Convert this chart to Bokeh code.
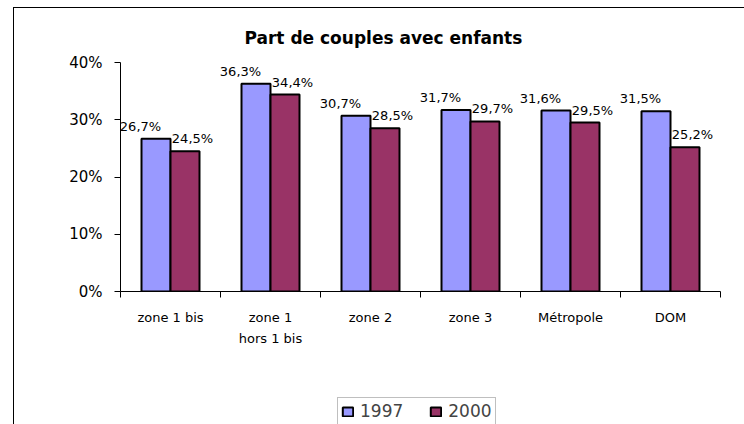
from bokeh.plotting import figure
from bokeh.layouts import column
from bokeh.models import Range1d, FixedTicker, ColumnDataSource, Legend, LegendItem
from bokeh.transform import dodge
from bokeh.core.properties import value
from bokeh.embed import file_html
from bokeh.resources import INLINE

# ---- data ----
title_text = "Part de couples avec enfants"
categories = ["zone 1 bis", "zone 1\nhors 1 bis", "zone 2", "zone 3", "Métropole", "DOM"]
series_names = ["1997", "2000"]
values_1997 = [26.7, 36.3, 30.7, 31.7, 31.6, 31.5]
values_2000 = [24.5, 34.4, 28.5, 29.7, 29.5, 25.2]
y_ticks = [0, 10, 20, 30, 40]

# ---- styles ----
FONT = "DejaVu Sans"
C1997 = "#9999FF"
C2000 = "#993366"

def fmt(v):
    return f"{v:.1f}%".replace(".", ",")

centers = [i + 0.5 for i in range(len(categories))]
bounds = [float(i) for i in range(len(categories) + 1)]

src = ColumnDataSource(dict(
    x=centers,
    v97=values_1997,
    v00=values_2000,
    l97=[fmt(v) for v in values_1997],
    l00=[fmt(v) for v in values_2000],
))

W = 730
H_MAIN, H_LEG = 388, 28
p = figure(width=W, height=H_MAIN, output_backend="svg", toolbar_location=None,
           x_range=Range1d(0, len(categories)), y_range=Range1d(0, y_ticks[-1]),
           min_border_left=106, min_border_right=24, min_border_top=54, min_border_bottom=105)
p.outline_line_color = None
p.xgrid.visible = False
p.ygrid.visible = False
p.background_fill_color = "white"
p.border_fill_color = "white"

# title
p.title.text = title_text
p.title.text_font = FONT
p.title.text_font_size = "17px"
p.title.text_font_style = "bold"
p.title.text_color = "black"
p.title.align = "left"
p.title.offset = 124
p.title.standoff = 29

bw = 0.29
bar_kw = dict(width=bw, bottom=0, source=src, line_color="black", line_width=2)
r97 = p.vbar(x=dodge("x", -bw / 2, range=p.x_range), top="v97", fill_color=C1997, **bar_kw)
r00 = p.vbar(x=dodge("x", bw / 2, range=p.x_range), top="v00", fill_color=C2000, **bar_kw)

for col, lab, off in (("v97", "l97", -0.30), ("v00", "l00", 0.22)):
    p.text(x=dodge("x", off, range=p.x_range), y=col, text=lab, source=src,
           text_align="center", text_baseline="bottom", y_offset=-5,
           text_font=value(FONT), text_font_size="13px", text_color="black")

# x axis
xa = p.xaxis[0]
xa.ticker = FixedTicker(ticks=centers, minor_ticks=bounds)
xa.major_label_overrides = {c: cat for c, cat in zip(centers, categories)}
xa.major_tick_out = 0
xa.major_tick_in = 0
xa.minor_tick_out = 6
xa.minor_tick_in = 0
xa.minor_tick_line_color = "black"
xa.axis_line_color = "black"
xa.major_label_text_font = FONT
xa.major_label_text_font_size = "13px"
xa.major_label_text_color = "black"
xa.major_label_text_line_height = 1.4
xa.major_label_standoff = 12

# y axis
ya = p.yaxis[0]
ya.ticker = FixedTicker(ticks=y_ticks)
ya.major_label_overrides = {t: f"{t}%" for t in y_ticks}
ya.major_tick_out = 6
ya.major_tick_in = 0
ya.minor_tick_out = 0
ya.minor_tick_in = 0
ya.axis_line_color = "black"
ya.major_tick_line_color = "black"
ya.major_label_text_font = FONT
ya.major_label_text_font_size = "15px"
ya.major_label_text_color = "black"
ya.major_label_standoff = 12

# legend strip below the chart (same two series; its own bars are hidden)
pl = figure(width=W, height=H_LEG, output_backend="svg", toolbar_location=None,
            x_range=p.x_range, y_range=p.y_range,
            x_axis_location=None, y_axis_location=None,
            min_border_left=0, min_border_right=0, min_border_top=0, min_border_bottom=0)
pl.outline_line_color = None
pl.xgrid.visible = False
pl.ygrid.visible = False
l97 = pl.vbar(x=dodge("x", -bw / 2, range=pl.x_range), top="v97", fill_color=C1997,
              visible=False, **bar_kw)
l00 = pl.vbar(x=dodge("x", bw / 2, range=pl.x_range), top="v00", fill_color=C2000,
              visible=False, **bar_kw)

legend = Legend(items=[LegendItem(label=series_names[0], renderers=[l97]),
                       LegendItem(label=series_names[1], renderers=[l00])],
                orientation="horizontal", location=(217, -1),
                label_text_font=FONT, label_text_font_size="17px",
                glyph_width=13, glyph_height=11, label_standoff=6, spacing=26,
                padding=3, margin=0, border_line_color="#808080", border_line_width=1,
                background_fill_alpha=1.0, inactive_fill_alpha=0.0,
                click_policy="none")
pl.add_layout(legend, "center")

page = column(p, pl, spacing=0)
page.styles = {"margin-left": "13px", "margin-top": "7px",
               "border-left": "1px solid black", "border-top": "1px solid black"}

open("out.html", "w").write(file_html(page, INLINE))
